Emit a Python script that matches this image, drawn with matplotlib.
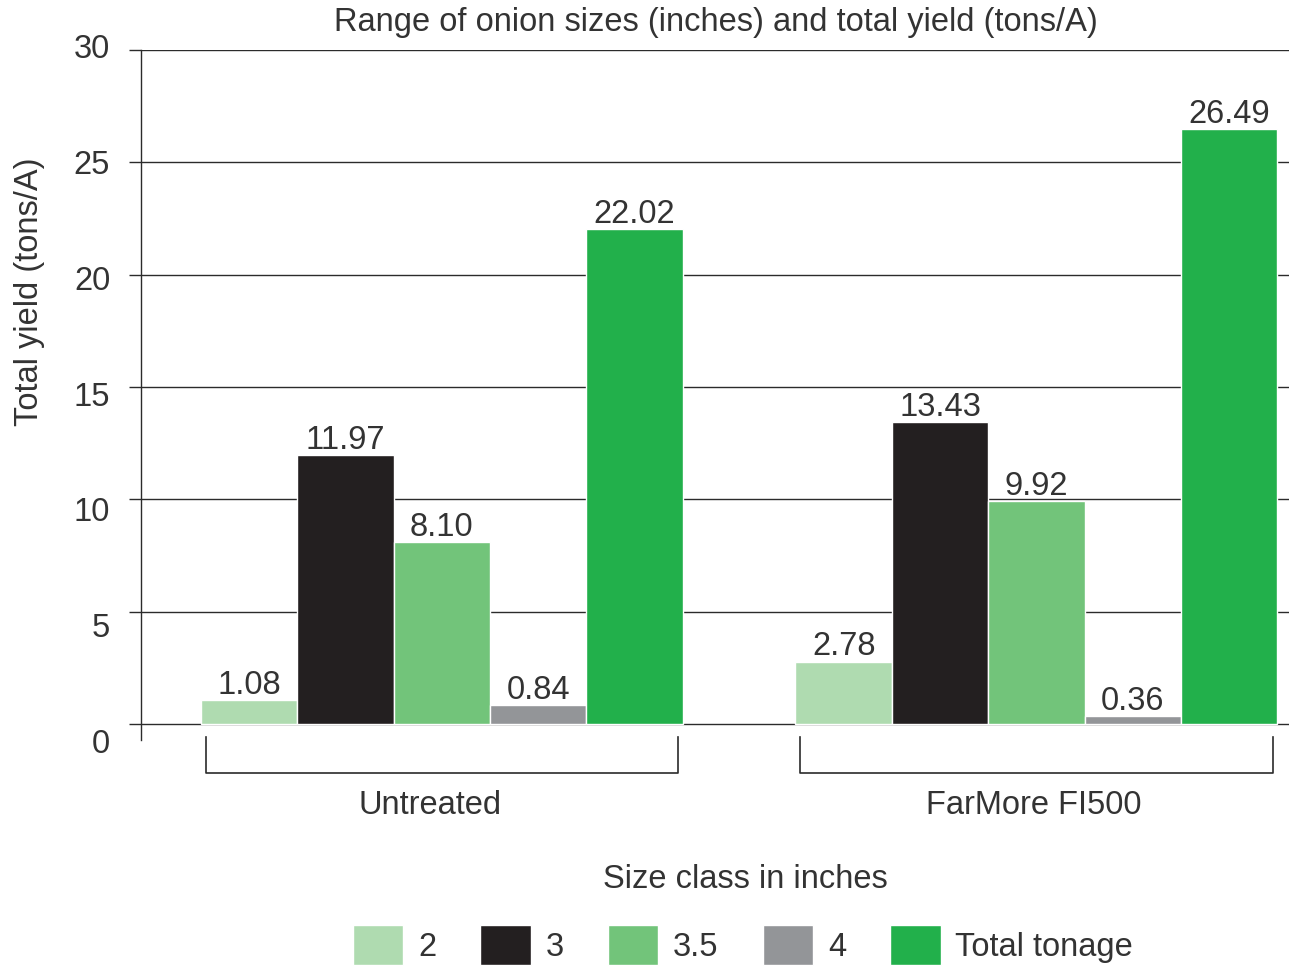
import numpy as np
import matplotlib
matplotlib.use("Agg")
import matplotlib.pyplot as plt

# Data
groups = ["Untreated", "FarMore FI500"]
size_classes = ["2", "3", "3.5", "4", "Total tonage"]
untreated = [1.08, 11.97, 8.10, 0.84, 22.02]
farmore = [2.78, 13.43, 9.92, 0.36, 26.49]
value_labels = [["1.08", "11.97", "8.10", "0.84", "22.02"],
                ["2.78", "13.43", "9.92", "0.36", "26.49"]]
y_ticks = [0, 5, 10, 15, 20, 25, 30]

colors = ["#afdbb0", "#231f20", "#72c47a", "#939598", "#22b04b"]
text_color = "#333333"
line_color = "#2b2b2b"

plt.rcParams["font.family"] = ["Liberation Sans", "DejaVu Sans"]
fs = 23.5

fig = plt.figure(figsize=(12.89, 9.66), dpi=100)
ax = fig.add_axes([0.1094, 0.234, 0.8906, 0.7143])

group_x = np.array([0.0, 6.17])
label_nudge = [-0.12, -0.03]
offsets = np.arange(len(size_classes)) - 2
values = np.array([untreated, farmore])

for j, name in enumerate(size_classes):
    bars = ax.bar(group_x + offsets[j], values[:, j], width=1.0, color=colors[j],
                  edgecolor="white", linewidth=1.0, label=name, zorder=3)
    for i, b in enumerate(bars):
        ax.annotate(value_labels[i][j], (b.get_x() + b.get_width() / 2, b.get_height()),
                    xytext=(0, -0.5), textcoords="offset points", ha="center", va="bottom",
                    fontsize=fs, color=text_color)

ax.set_xlim(-3.12, 8.79)
ax.set_ylim(-0.7, 30)

# grid and axes
ax.set_yticks(y_ticks)
ax.set_yticklabels([])
ax.tick_params(axis="y", length=8.6, width=1.0, color=line_color)
ax.yaxis.grid(True, color=line_color, linewidth=1.0, zorder=1)
ax.set_xticks([])
for side in ["top", "right", "bottom"]:
    ax.spines[side].set_visible(False)
ax.spines["left"].set_color(line_color)
ax.spines["left"].set_linewidth(1.0)

# tick labels sit slightly below the gridlines as in the original
for v in y_ticks:
    ax.text(-3.44, -0.89 + v * 30.89 / 30, str(v), ha="right", va="center",
            fontsize=fs, color=text_color, clip_on=False)

# group brackets and labels
for gx, nudge, gname in zip(group_x, label_nudge, groups):
    xl, xr = gx - 2.45, gx + 2.45
    ax.plot([xl, xl, xr, xr], [-0.58, -2.18, -2.18, -0.58], color=line_color,
            linewidth=1.2, clip_on=False)
    ax.text(gx + nudge, -3.6, gname, ha="center", va="center", fontsize=fs,
            color=text_color, clip_on=False)

fig.text(30 / 1289, 1 - 292 / 966, "Total yield (tons/A)", rotation=90, ha="center",
         va="center", fontsize=fs, color=text_color)

fig.text(716 / 1289, 1 - 22 / 966, "Range of onion sizes (inches) and total yield (tons/A)",
         ha="center", va="center", fontsize=fs, color=text_color)
fig.text(745 / 1289, 1 - 880 / 966, "Size class in inches", ha="center", va="center",
         fontsize=fs, color=text_color)

handles, labels = ax.get_legend_handles_labels()
leg = fig.legend(handles, labels, loc="center", bbox_to_anchor=(743 / 1289, 1 - 945 / 966),
                 ncol=5, frameon=False, fontsize=fs, handlelength=1.55, handleheight=1.5,
                 handletextpad=0.45, columnspacing=1.35)
for t in leg.get_texts():
    t.set_color(text_color)

fig.savefig("out.png", dpi=100)
